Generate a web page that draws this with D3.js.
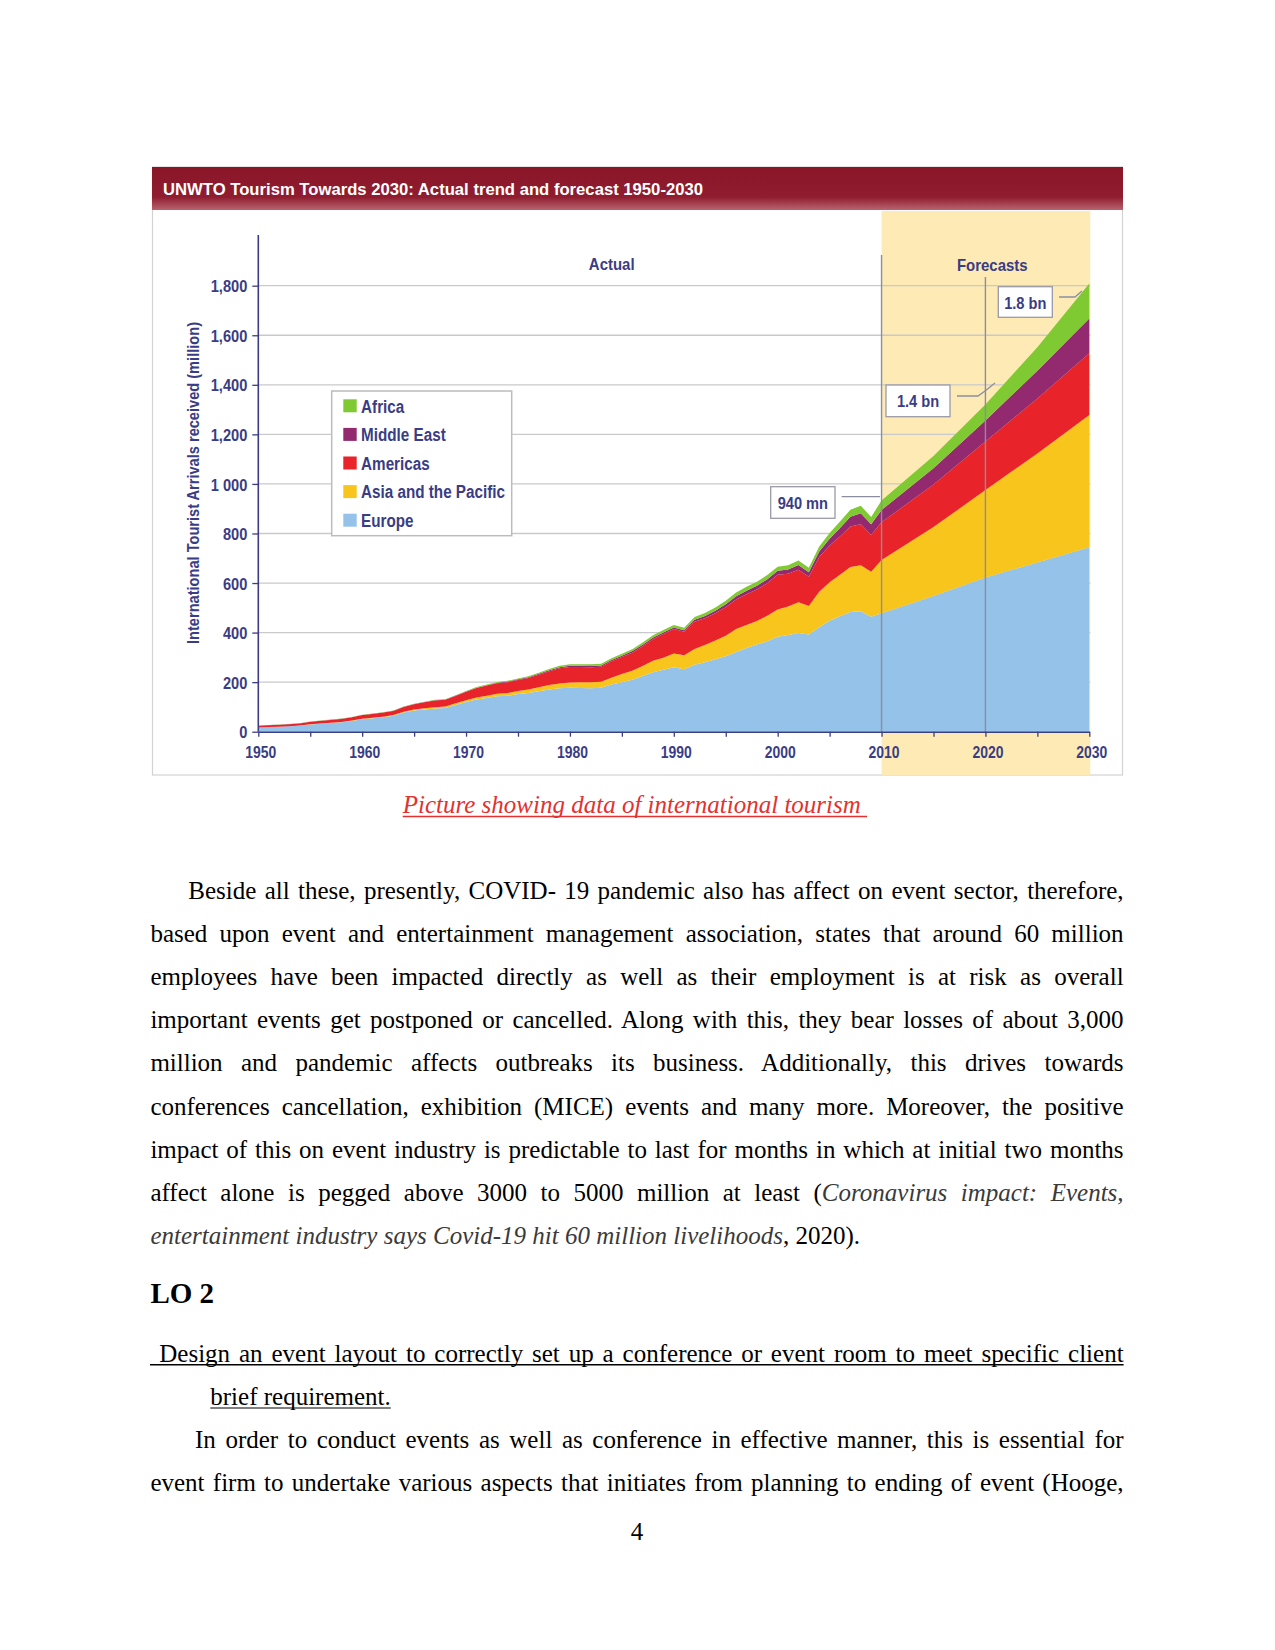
<!DOCTYPE html>
<html>
<head>
<meta charset="utf-8">
<script src="https://cdn.jsdelivr.net/npm/d3@7"></script>
<style>
body { margin: 0; background: #fff; }
svg { display: block; }
.body { font-family: "Liberation Serif", "Times New Roman", serif; font-size: 25px; white-space: pre; }
.sans { font-family: "Liberation Sans", Arial, sans-serif; font-weight: bold; }
</style>
</head>
<body>
<svg id="page" width="1275" height="1650"></svg>
<script>
// ---- chart data (million arrivals), annual 1950-2010 then forecasts 2015-2030 ----
var years = d3.range(1950, 2011).concat([2015, 2020, 2025, 2030]);

var europe = [17, 19, 20, 22, 24, 29, 32, 35, 38, 43,
    50, 54, 58, 64, 77, 86, 90, 94, 96, 108,
    120, 130, 136, 143, 145, 152, 156, 163, 170, 175,
    177, 176, 175, 177, 190, 200, 210, 225, 240, 250,
    260, 252, 270, 280, 292, 305, 322, 338, 352, 365,
    383, 390, 398, 392, 422, 448, 466, 483, 486, 464,
    478, 548, 622, 683, 744];

var asia = [0.2, 0.3, 0.4, 0.5, 0.6, 0.8, 1.0, 1.2, 1.5, 1.8,
    2.0, 2.3, 2.6, 3.0, 3.5, 4.0, 4.5, 5.0, 5.5, 6.5,
    7, 8, 9, 10, 11, 12, 14, 16, 18, 20,
    22, 24, 25, 25, 28, 33, 36, 40, 46, 48,
    56, 57, 64, 70, 76, 82, 92, 93, 95, 103,
    110, 115, 124, 115, 143, 155, 167, 182, 186, 182,
    215, 278, 353, 440, 534];

var americas = [7, 7.2, 7.5, 8, 9, 10.5, 11, 11.5, 12, 13.5,
    15, 15.5, 16.5, 17, 19, 21, 24, 27, 27, 30,
    34, 38, 41, 43, 44, 45, 47, 51, 56, 61,
    62, 61, 60, 60, 66, 68, 73, 80, 88, 96,
    98, 94, 110, 108, 110, 115, 120, 124, 127, 131,
    140, 132, 132, 118, 140, 148, 155, 163, 165, 148,
    152, 172, 196, 222, 249];

var middleEast = [0.2, 0.2, 0.2, 0.3, 0.3, 0.3, 0.4, 0.4, 0.5, 0.5,
    0.6, 0.7, 0.7, 0.8, 0.9, 1.0, 1.1, 1.2, 1.2, 1.3,
    1.5, 1.7, 1.9, 2.0, 2.2, 2.5, 3.0, 3.5, 4.0, 4.6,
    5.0, 5.2, 5.3, 5.4, 5.6, 6.0, 6.2, 6.4, 6.6, 6.8,
    7.0, 6.5, 8.0, 9.0, 10.5, 12, 13, 14, 15, 16,
    17, 18, 19, 19, 22, 28, 34, 40, 45, 43,
    50, 65, 85, 112, 141];

var africa = [0.5, 0.5, 0.6, 0.6, 0.6, 0.7, 0.7, 0.7, 0.8, 0.8,
    0.8, 0.9, 1.0, 1.1, 1.2, 1.3, 1.4, 1.5, 1.6, 1.8,
    2.0, 2.3, 2.6, 2.9, 3.2, 3.5, 3.9, 4.3, 4.8, 5.3,
    6.0, 6.3, 6.5, 6.8, 7.0, 7.3, 7.8, 8.3, 9.0, 9.5,
    10, 10.5, 11, 12, 13, 14, 15, 16, 16, 17,
    16, 17, 18, 18, 20, 23, 26, 28, 30, 30,
    38, 50, 65, 95, 141];

var seriesKeys = ["europe", "asia", "americas", "middleEast", "africa"];
var seriesNames = ["Europe", "Asia and the Pacific", "Americas", "Middle East", "Africa"];
var seriesColors = ["#95c2e9", "#f8c51d", "#e9232a", "#932a6f", "#7fc933"];

var yTickValues = [0, 200, 400, 600, 800, 1000, 1200, 1400, 1600, 1800];
var yTickLabels = ["0", "200", "400", "600", "800", "1 000", "1,200", "1,400", "1,600", "1,800"];
var xTickValues = [1950, 1960, 1970, 1980, 1990, 2000, 2010, 2020, 2030];
var xTickLabels = ["1950", "1960", "1970", "1980", "1990", "2000", "2010", "2020", "2030"];
var xMinorTicks = [1955, 1965, 1975, 1985, 1995, 2005, 2015, 2025];

var calloutLabels = ["940 mn", "1.4 bn", "1.8 bn"];

// ---- page text ----
var para1 = [
    [{t: "Beside all these, presently, COVID- 19 pandemic also has affect on event sector, therefore,"}],
    [{t: "based upon event and entertainment management association, states that around 60 million"}],
    [{t: "employees have been impacted directly as well as their employment is at risk as overall"}],
    [{t: "important events get postponed or cancelled. Along with this, they bear losses of about 3,000"}],
    [{t: "million and pandemic affects outbreaks its business. Additionally, this drives towards"}],
    [{t: "conferences cancellation, exhibition (MICE) events and many more. Moreover, the positive"}],
    [{t: "impact of this on event industry is predictable to last for months in which at initial two months"}],
    [{t: "affect alone is pegged above 3000 to 5000 million at least ("}, {t: "Coronavirus impact: Events,", i: true}],
    [{t: "entertainment industry says Covid-19 hit 60 million livelihoods", i: true}, {t: ", 2020)."}]
];
var para2 = [
    [{t: "In order to conduct events as well as conference in effective manner, this is essential for"}],
    [{t: "event firm to undertake various aspects that initiates from planning to ending of event (Hooge,"}]
];

var svg = d3.select("#page");
var axisColor = "#3a3c84";

var x = d3.scaleLinear().domain([1950, 2030]).range([258.3, 1089.3]);
var y = d3.scaleLinear().domain([0, 1800]).range([731.7, 285.7]);

// squeeze chart labels a little, the original uses a condensed bold face
function condense(sel, k) {
    sel.each(function() {
        var n = this.getComputedTextLength();
        d3.select(this).attr("textLength", n * k).attr("lengthAdjust", "spacingAndGlyphs");
    });
}

// frame + header
var defs = svg.append("defs");
var grad = defs.append("linearGradient").attr("id", "hdr").attr("x1", 0).attr("y1", 0).attr("x2", 0).attr("y2", 1);
grad.append("stop").attr("offset", "0%").attr("stop-color", "#8a1628");
grad.append("stop").attr("offset", "70%").attr("stop-color", "#8f1d2f");
grad.append("stop").attr("offset", "100%").attr("stop-color", "#b8646f");

svg.append("rect").attr("x", 152.5).attr("y", 167).attr("width", 970).attr("height", 608)
    .attr("fill", "#fff").attr("stroke", "#d2d2d2").attr("stroke-width", 1.2);
svg.append("rect").attr("x", 152).attr("y", 167).attr("width", 971).attr("height", 43).attr("fill", "url(#hdr)");
svg.append("text").attr("class", "sans").attr("x", 163).attr("y", 195)
    .attr("fill", "#fff").style("font-size", "16.5px")
    .attr("textLength", 540).attr("lengthAdjust", "spacingAndGlyphs")
    .text("UNWTO Tourism Towards 2030: Actual trend and forecast 1950-2030");

// forecast band
svg.append("rect").attr("x", x(2010)).attr("y", 211)
    .attr("width", x(2030) - x(2010) + 1).attr("height", 775 - 211)
    .attr("fill", "#fdeab4");

// gridlines
svg.append("g").selectAll("line").data(yTickValues.slice(1)).enter().append("line")
    .attr("x1", x(1950)).attr("x2", x(2030) + 1)
    .attr("y1", function(d) { return y(d); }).attr("y2", function(d) { return y(d); })
    .attr("stroke", "#c9c9cc").attr("stroke-width", 1.3);

// stacked areas
var rows = years.map(function(yr, i) {
    return {year: yr, europe: europe[i], asia: asia[i], americas: americas[i], middleEast: middleEast[i], africa: africa[i]};
});
var stacked = d3.stack().keys(seriesKeys)(rows);
var area = d3.area()
    .x(function(d) { return x(d.data.year); })
    .y0(function(d) { return y(d[0]); })
    .y1(function(d) { return y(d[1]); });

svg.append("g").selectAll("path").data(stacked).enter().append("path")
    .attr("d", area)
    .attr("fill", function(d, i) { return seriesColors[i]; });

// 2010 / 2020 markers
svg.append("line").attr("x1", x(2010)).attr("x2", x(2010)).attr("y1", 255).attr("y2", y(0))
    .attr("stroke", "#8c8ea0").attr("stroke-width", 1.4);
svg.append("line").attr("x1", x(2020)).attr("x2", x(2020)).attr("y1", 277).attr("y2", y(0))
    .attr("stroke", "#8c8ea0").attr("stroke-width", 1.4);

// y axis
var gy = svg.append("g").attr("transform", "translate(" + x(1950) + ",0)")
    .call(d3.axisLeft(y).tickValues(yTickValues)
        .tickFormat(function(d, i) { return yTickLabels[i]; })
        .tickSize(6).tickPadding(5));
gy.select(".domain").remove();
gy.selectAll("line").attr("stroke", axisColor).attr("stroke-width", 1.3);
gy.selectAll("text").attr("fill", axisColor).attr("class", "sans").style("font-size", "17px").attr("dy", "0.36em");
condense(gy.selectAll("text"), 0.86);
svg.append("line").attr("x1", x(1950)).attr("x2", x(1950)).attr("y1", 235).attr("y2", y(0))
    .attr("stroke", axisColor).attr("stroke-width", 1.6);

// x axis
var gx = svg.append("g").attr("transform", "translate(0," + y(0) + ")")
    .call(d3.axisBottom(x).tickValues(xTickValues)
        .tickFormat(function(d, i) { return xTickLabels[i]; })
        .tickSize(5).tickSizeOuter(0));
gx.select(".domain").attr("stroke", axisColor).attr("stroke-width", 1.6);
gx.selectAll("line").attr("stroke", axisColor).attr("stroke-width", 1.3);
gx.selectAll("text").attr("fill", axisColor).attr("class", "sans").style("font-size", "17px")
    .attr("y", 26.5).attr("dy", 0).attr("dx", 2);
condense(gx.selectAll("text"), 0.82);
var gxm = svg.append("g").attr("transform", "translate(0," + y(0) + ")")
    .call(d3.axisBottom(x).tickValues(xMinorTicks).tickFormat("").tickSize(5).tickSizeOuter(0));
gxm.select(".domain").remove();
gxm.selectAll("line").attr("stroke", axisColor).attr("stroke-width", 1.3);

// axis title
svg.append("text").attr("class", "sans")
    .attr("transform", "translate(198.5," + 483 + ") rotate(-90)")
    .attr("text-anchor", "middle").attr("fill", axisColor).style("font-size", "16px")
    .attr("textLength", 322).attr("lengthAdjust", "spacingAndGlyphs")
    .text("International Tourist Arrivals received (million)");

var heads = svg.append("g");
heads.append("text").attr("class", "sans").attr("x", 611.7).attr("y", 270)
    .attr("text-anchor", "middle").attr("fill", axisColor).style("font-size", "17px").text("Actual");
heads.append("text").attr("class", "sans").attr("x", 992.3).attr("y", 270.5)
    .attr("text-anchor", "middle").attr("fill", axisColor).style("font-size", "17px").text("Forecasts");
condense(heads.selectAll("text"), 0.88);

// legend
var legend = svg.append("g").attr("transform", "translate(331.7,391)");
legend.append("rect").attr("width", 180).attr("height", 144.7)
    .attr("fill", "#fff").attr("stroke", "#bcbcbc").attr("stroke-width", 1.5);
var legendItems = legend.selectAll("g.item").data(d3.range(seriesKeys.length).reverse()).enter()
    .append("g").attr("class", "item")
    .attr("transform", function(d, j) { return "translate(11.6," + (8.3 + j * 28.6) + ")"; });
legendItems.append("rect").attr("width", 13.4).attr("height", 13)
    .attr("fill", function(d) { return seriesColors[d]; });
legendItems.append("text").attr("class", "sans").attr("x", 17.8).attr("y", 13.2)
    .attr("fill", axisColor).style("font-size", "17.5px")
    .text(function(d) { return seriesNames[d]; });
condense(legendItems.selectAll("text"), 0.87);

// callout boxes
var boxes = [
    {x0: 770.7, y0: 486.7, w: 64.3, h: 31.6, leader: [[841.7, 496.7], [x(2010) - 1.5, 496.7]]},
    {x0: 886, y0: 385, w: 64, h: 31.7, leader: [[957, 396], [978, 396], [985, 391], [995, 383]]},
    {x0: 998.3, y0: 286.7, w: 54, h: 30.6, leader: [[1059, 297], [1075, 297], [1082, 291]]}
];
var line = d3.line();
var boxText = svg.append("g");
boxes.forEach(function(b, i) {
    svg.append("path").attr("d", line(b.leader)).attr("fill", "none")
        .attr("stroke", "#8c8ea0").attr("stroke-width", 1.3);
    svg.append("rect").attr("x", b.x0).attr("y", b.y0).attr("width", b.w).attr("height", b.h)
        .attr("fill", "#fff").attr("stroke", "#9a9aa8").attr("stroke-width", 1.3);
    boxText.append("text").attr("class", "sans").attr("x", b.x0 + b.w / 2).attr("y", b.y0 + 22)
        .attr("text-anchor", "middle").attr("fill", axisColor).style("font-size", "17px")
        .text(calloutLabels[i]);
});
boxText.raise();
condense(boxText.selectAll("text"), 0.86);

// ---- page text ----
function drawLine(segs, x0, base, x1) {
    var t = svg.append("text").attr("class", "body").attr("x", x0).attr("y", base);
    segs.forEach(function(s) {
        t.append("tspan").text(s.t)
            .style("font-style", s.i ? "italic" : "normal")
            .attr("fill", s.i ? "#3a3a3a" : "#000");
    });
    if (x1) {
        var len = t.node().getComputedTextLength();
        var n = (segs.map(function(s) { return s.t; }).join("").match(/ /g) || []).length;
        if (n > 0) t.style("word-spacing", ((x1 - x0 - len) / n) + "px");
    }
    return t;
}

var left = 150.4, right = 1123.6, lead = 43.1;

// caption
var cap = svg.append("text").attr("class", "body").attr("x", 402.7).attr("y", 813)
    .style("font-style", "italic").attr("fill", "#e4312f")
    .text("Picture showing data of international tourism ");
var capLen = cap.node().getComputedTextLength();
svg.append("line").attr("x1", 402.7).attr("x2", 402.7 + capLen).attr("y1", 816.5).attr("y2", 816.5)
    .attr("stroke", "#e4312f").attr("stroke-width", 1.4);

para1.forEach(function(segs, i) {
    var last = i === para1.length - 1;
    drawLine(segs, i === 0 ? 188.3 : left, 899 + i * lead, last ? null : right);
});

svg.append("text").attr("class", "body").attr("x", left).attr("y", 1303)
    .style("font-weight", "bold").style("font-size", "29px").text("LO 2");

drawLine([{t: "Design an event layout to correctly set up a conference or event room to meet specific client"}], 159.3, 1361.7, right);
svg.append("line").attr("x1", 150).attr("x2", right).attr("y1", 1364.8).attr("y2", 1364.8)
    .attr("stroke", "#000").attr("stroke-width", 1.4);
var brief = drawLine([{t: "brief requirement."}], 210.3, 1405, null);
svg.append("line").attr("x1", 210.3).attr("x2", 210.3 + brief.node().getComputedTextLength())
    .attr("y1", 1408).attr("y2", 1408).attr("stroke", "#000").attr("stroke-width", 1.2);

drawLine(para2[0], 195, 1447.7, right);
drawLine(para2[1], left, 1490.7, right);

svg.append("text").attr("class", "body").attr("x", 637).attr("y", 1540)
    .attr("text-anchor", "middle").text("4");
</script>
</body>
</html>
